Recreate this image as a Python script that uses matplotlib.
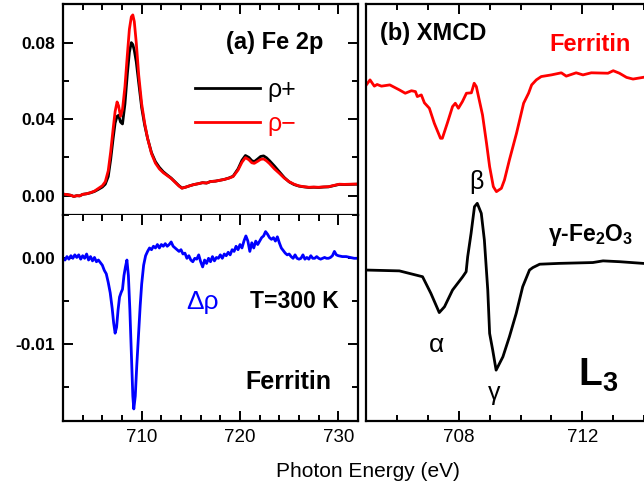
import matplotlib
matplotlib.use("Agg")
import matplotlib.pyplot as plt
from matplotlib.ticker import FixedLocator, MultipleLocator

plt.rcParams['font.family'] = ['Liberation Sans', 'DejaVu Sans']
plt.rcParams['mathtext.fontset'] = 'custom'
plt.rcParams['mathtext.rm'] = 'Liberation Sans'
plt.rcParams['mathtext.bf'] = 'Liberation Sans:bold'
plt.rcParams['mathtext.it'] = 'Liberation Sans:italic'

# ---------------- data: panel (a) top, absorption ----------------
energy_abs = [702.0, 702.4, 702.8, 703.1, 703.4, 703.7, 704.0, 704.4, 704.8, 705.2,
              705.6, 706.0, 706.3, 706.6, 706.85, 707.1, 707.3, 707.5, 707.65, 707.85,
              708.05, 708.3, 708.55, 708.75, 708.95, 709.1, 709.25, 709.45, 709.7, 710.0,
              710.3, 710.6, 711.0, 711.4, 711.8, 712.2, 712.6, 713.0, 713.4, 713.8,
              714.1, 714.5, 714.9, 715.3, 715.7, 716.2, 716.6, 717.0, 717.5, 717.9,
              718.4, 718.9, 719.3, 719.8, 720.2, 720.55, 720.9, 721.2, 721.45, 721.8,
              722.1, 722.4, 722.7, 723.0, 723.5, 724.0, 724.5, 725.0, 725.5, 726.0,
              726.5, 727.0, 727.5, 728.0, 728.5, 729.0, 729.5, 730.1, 730.6, 731.2, 732.0]
rho_minus = [0.0008, 0.0006, 0.0002, -0.0004, 0.0000, -0.0001, 0.0007, 0.0010, 0.0016, 0.0024,
             0.0038, 0.0052, 0.0073, 0.0130, 0.0230, 0.0350, 0.0440, 0.0490, 0.0470, 0.0415,
             0.0450, 0.0570, 0.0740, 0.0870, 0.0935, 0.0945, 0.0910, 0.0800, 0.0630, 0.0480,
             0.0380, 0.0300, 0.0220, 0.0170, 0.0140, 0.0120, 0.0105, 0.0090, 0.0070, 0.0050,
             0.0039, 0.0045, 0.0052, 0.0058, 0.0062, 0.0068, 0.0066, 0.0074, 0.0076, 0.0080,
             0.0085, 0.0092, 0.0100, 0.0134, 0.0175, 0.0199, 0.0188, 0.0172, 0.0169, 0.0180,
             0.0190, 0.0192, 0.0182, 0.0168, 0.0140, 0.0117, 0.0092, 0.0073, 0.0060, 0.0051,
             0.0047, 0.0044, 0.0045, 0.0044, 0.0046, 0.0047, 0.0053, 0.0060, 0.0059, 0.0060, 0.0061]
rho_plus = [0.0008, 0.0006, 0.0002, -0.0004, 0.0000, -0.0001, 0.0007, 0.0010, 0.0015, 0.0022,
            0.0033, 0.0045, 0.0060, 0.0100, 0.0190, 0.0300, 0.0380, 0.0415, 0.0420, 0.0385,
            0.0375, 0.0480, 0.0640, 0.0750, 0.0800, 0.0790, 0.0760, 0.0700, 0.0590, 0.0460,
            0.0370, 0.0300, 0.0225, 0.0178, 0.0148, 0.0125, 0.0108, 0.0092, 0.0072, 0.0052,
            0.0040, 0.0045, 0.0052, 0.0058, 0.0062, 0.0068, 0.0066, 0.0074, 0.0076, 0.0080,
            0.0085, 0.0093, 0.0102, 0.0140, 0.0185, 0.0210, 0.0200, 0.0183, 0.0178, 0.0192,
            0.0205, 0.0208, 0.0198, 0.0183, 0.0155, 0.0125, 0.0095, 0.0072, 0.0058, 0.0050,
            0.0046, 0.0043, 0.0044, 0.0043, 0.0045, 0.0046, 0.0052, 0.0059, 0.0058, 0.0059, 0.0060]

# ---------------- data: panel (a) bottom, difference ----------------
energy_diff = [702.0, 702.2, 702.4, 702.6, 702.8, 703.0, 703.2, 703.4, 703.6, 703.8,
               704.0, 704.2, 704.4, 704.6, 704.8, 705.0, 705.2, 705.4, 705.6, 705.8,
               706.0, 706.2, 706.4, 706.6, 706.8, 707.0, 707.15, 707.3, 707.45, 707.6,
               707.75, 707.9, 708.05, 708.2, 708.35, 708.5, 708.65, 708.8, 708.95, 709.1,
               709.2, 709.35, 709.5, 709.7, 709.85, 710.0, 710.2, 710.4, 710.6, 710.8,
               711.0, 711.2, 711.4, 711.6, 711.8, 712.0, 712.2, 712.4, 712.6, 712.8,
               713.0, 713.2, 713.4, 713.6, 713.8, 714.0, 714.2, 714.4, 714.6, 714.8,
               715.0, 715.2, 715.4, 715.6, 715.8, 716.0, 716.2, 716.4, 716.6, 716.8,
               717.0, 717.2, 717.4, 717.6, 717.8, 718.0, 718.2, 718.4, 718.6, 718.8,
               719.0, 719.2, 719.4, 719.6, 719.8, 720.0, 720.2, 720.4, 720.6, 720.8,
               721.0, 721.2, 721.4, 721.6, 721.8, 722.0, 722.2, 722.4, 722.6, 722.8,
               723.0, 723.2, 723.4, 723.6, 723.8, 724.0, 724.2, 724.4, 724.6, 724.8,
               725.0, 725.2, 725.4, 725.6, 725.8, 726.0, 726.2, 726.4, 726.6, 726.8,
               727.0, 727.2, 727.4, 727.6, 727.8, 728.0, 728.2, 728.4, 728.6, 728.8,
               729.0, 729.2, 729.4, 729.6, 729.8, 730.0, 730.4, 730.8, 731.2, 731.6, 732.0]
delta_rho = [0.0000, -0.0002, 0.0002, -0.0001, 0.0003, 0.0000, 0.0004, 0.0001, 0.0004, -0.0001,
             0.0003, 0.0000, 0.0005, -0.0002, 0.0002, -0.0003, 0.0001, -0.0004, -0.0002, -0.0005,
             -0.0008, -0.0014, -0.0018, -0.0028, -0.0040, -0.0058, -0.0075, -0.0087, -0.0080, -0.0060,
             -0.0045, -0.0040, -0.0036, -0.0020, -0.0010, -0.0002, -0.0020, -0.0060, -0.0110, -0.0160,
             -0.0175, -0.0160, -0.0125, -0.0085, -0.0055, -0.0030, -0.0008, 0.0003, 0.0008, 0.0012,
             0.0010, 0.0014, 0.0012, 0.0016, 0.0012, 0.0016, 0.0014, 0.0017, 0.0014, 0.0016,
             0.0019, 0.0014, 0.0012, 0.0010, 0.0008, 0.0010, 0.0005, 0.0006, 0.0000, 0.0003,
             -0.0002, -0.0004, 0.0000, -0.0001, 0.0004, -0.0004, -0.0010, -0.0002, -0.0006, 0.0000,
             -0.0004, 0.0002, -0.0003, 0.0001, 0.0000, 0.0004, 0.0000, 0.0005, 0.0003, 0.0007,
             0.0004, 0.0010, 0.0008, 0.0014, 0.0010, 0.0016, 0.0012, 0.0020, 0.0026, 0.0020,
             0.0008, 0.0018, 0.0012, 0.0020, 0.0016, 0.0020, 0.0024, 0.0026, 0.0031, 0.0028,
             0.0024, 0.0022, 0.0024, 0.0020, 0.0025, 0.0018, 0.0012, 0.0009, 0.0006, 0.0004,
             0.0005, 0.0002, 0.0000, 0.0004, 0.0000, -0.0001, 0.0000, 0.0004, -0.0001, 0.0001,
             -0.0001, 0.0003, 0.0000, 0.0000, 0.0002, 0.0000, -0.0001, 0.0000, 0.0001, 0.0000,
             0.0000, 0.0001, 0.0003, 0.0008, 0.0004, 0.0003, 0.0002, 0.0002, 0.0001, 0.0000, 0.0000]

# ---------------- data: panel (b) XMCD (arbitrary units) ----------------
energy_ferritin = [704.98, 705.13, 705.27, 705.36, 705.5, 705.77, 706.08, 706.27, 706.47, 706.6,
                   706.66, 706.79, 706.89, 707.05, 707.21, 707.41, 707.47, 707.63, 707.8, 707.89,
                   707.99, 708.12, 708.25, 708.41, 708.5, 708.57, 708.77, 708.9, 709.0, 709.12,
                   709.22, 709.38, 709.48, 709.64, 709.87, 710.1, 710.26, 710.36, 710.51, 710.67,
                   711.0, 711.32, 711.48, 711.8, 712.02, 712.29, 712.83, 713.0, 713.2, 713.43,
                   713.64, 713.96]
xmcd_ferritin = [8.03, 8.18, 8.03, 8.07, 8.03, 8.06, 7.94, 7.86, 7.92, 7.90,
                 7.78, 7.82, 7.63, 7.50, 7.14, 6.78, 6.78, 7.14, 7.54, 7.62,
                 7.50, 7.66, 7.86, 7.87, 8.10, 8.02, 7.34, 6.66, 6.10, 5.62,
                 5.50, 5.58, 5.78, 6.26, 6.90, 7.62, 7.86, 8.06, 8.18, 8.26,
                 8.30, 8.35, 8.27, 8.35, 8.30, 8.35, 8.34, 8.40, 8.34, 8.24,
                 8.20, 8.24]
energy_fe2o3 = [705.0, 706.08, 706.83, 707.1, 707.37, 707.54, 707.8, 708.13, 708.24, 708.29,
                708.4, 708.51, 708.6, 708.73, 708.83, 708.94, 709.0, 709.1, 709.21, 709.43,
                709.64, 709.86, 710.07, 710.29, 710.4, 710.62, 711.26, 712.34, 712.67, 713.21,
                713.96]
xmcd_fe2o3 = [3.62, 3.60, 3.46, 3.06, 2.60, 2.74, 3.14, 3.46, 3.58, 3.94,
              4.50, 5.14, 5.22, 4.98, 4.34, 3.14, 2.10, 1.70, 1.22, 1.54,
              2.02, 2.58, 3.22, 3.62, 3.68, 3.76, 3.78, 3.80, 3.84, 3.82,
              3.78]

# tick labels
top_yticks = [0.00, 0.04, 0.08]
top_ylabels = ['0.00', '0.04', '0.08']
bot_yticks = [0.00, -0.01]
bot_ylabels = ['0.00', '-0.01']
a_xticks = [710, 720, 730]
b_xticks = [708, 712]

W, H = 644, 484
fig = plt.figure(figsize=(W / 100, H / 100), dpi=100)

def frac(x0, y0, x1, y1):
    return [x0 / W, 1 - y1 / H, (x1 - x0) / W, (y1 - y0) / H]

ax_top = fig.add_axes(frac(63, 4, 358, 215))
ax_bot = fig.add_axes(frac(63, 215, 358, 421))
ax_b = fig.add_axes(frac(366, 4, 646, 421))

for ax in (ax_top, ax_bot, ax_b):
    for s in ax.spines.values():
        s.set_linewidth(1.6)
    ax.tick_params(which='both', direction='in', width=1.4, colors='black')
    ax.tick_params(which='major', length=7)
    ax.tick_params(which='minor', length=4)

# ---- top (a) ----
ax_top.plot(energy_abs, rho_plus, color='black', lw=2.0, label='ρ+')
ax_top.plot(energy_abs, rho_minus, color='#ff0000', lw=2.0, label='ρ−')
ax_top.set_xlim(702, 732)
ax_top.set_ylim(-0.0101, 0.1002)
ax_top.xaxis.set_major_locator(FixedLocator(a_xticks))
ax_top.xaxis.set_minor_locator(MultipleLocator(2))
ax_top.yaxis.set_major_locator(FixedLocator(top_yticks))
ax_top.set_yticklabels(top_ylabels)
ax_top.yaxis.set_minor_locator(MultipleLocator(0.02))
ax_top.tick_params(which='both', top=True, bottom=False, labelbottom=False,
                   left=True, right=True)
ax_top.tick_params(axis='y', labelsize=12.5, pad=6)
for lab in ax_top.get_yticklabels():
    lab.set_fontweight('bold')
leg = ax_top.legend(loc='upper left', bbox_to_anchor=(0.37, 0.755), frameon=False,
                    fontsize=18, handlelength=2.6, handletextpad=0.3,
                    labelspacing=0.38, labelcolor='linecolor')
ax_top.text(723.55, 0.0803, '(a) Fe 2p', fontsize=17, fontweight='bold',
            ha='center', va='center')

# ---- bottom (a) ----
ax_bot.plot(energy_diff, delta_rho, color='#0000ff', lw=2.0)
ax_bot.set_xlim(702, 732)
ax_bot.set_ylim(-0.0189, 0.00503)
ax_bot.xaxis.set_major_locator(FixedLocator(a_xticks))
ax_bot.xaxis.set_minor_locator(MultipleLocator(2))
ax_bot.yaxis.set_major_locator(FixedLocator(bot_yticks))
ax_bot.set_yticklabels(bot_ylabels)
ax_bot.yaxis.set_minor_locator(MultipleLocator(0.005))
ax_bot.tick_params(which='both', top=True, bottom=True, left=True, right=True)
ax_bot.spines['top'].set_visible(False)
ax_bot.tick_params(axis='y', labelsize=12.5, pad=6)
ax_bot.tick_params(axis='x', labelsize=13.5, pad=6)
for lab in ax_bot.get_yticklabels():
    lab.set_fontweight('bold')
ax_bot.text(716.2, -0.00505, 'Δρ', fontsize=19, color='#0000ff', ha='center', va='center')
ax_bot.text(725.5, -0.00505, 'T=300 K', fontsize=16.5, fontweight='bold', ha='center', va='center')
ax_bot.text(724.9, -0.01435, 'Ferritin', fontsize=18, fontweight='bold', ha='center', va='center')

# ---- panel (b) ----
ax_b.plot(energy_ferritin, xmcd_ferritin, color='#ff0000', lw=2.0)
ax_b.plot(energy_fe2o3, xmcd_fe2o3, color='black', lw=2.0)
ax_b.set_xlim(705, 714.06)
ax_b.set_ylim(0, 10)
ax_b.xaxis.set_major_locator(FixedLocator(b_xticks))
ax_b.xaxis.set_minor_locator(MultipleLocator(1))
ax_b.set_yticks([])
ax_b.tick_params(which='both', top=True, bottom=True, left=False, right=False)
ax_b.tick_params(axis='x', labelsize=13.5, pad=6)
ax_b.spines['right'].set_visible(False)
ax_b.text(707.19, 9.3, '(b) XMCD', fontsize=17, fontweight='bold', ha='center', va='center')
ax_b.text(712.24, 9.02, 'Ferritin', fontsize=17, fontweight='bold', color='#ff0000',
          ha='center', va='center')
ax_b.text(708.56, 5.74, 'β', fontsize=18, ha='center', va='center')
ax_b.text(712.27, 4.45, r'γ-Fe$_\mathbf{2}$O$_\mathbf{3}$', fontsize=16.5, fontweight='bold',
          ha='center', va='center')
ax_b.text(707.27, 1.82, 'α', fontsize=19, ha='center', va='center')
ax_b.text(709.16, 0.66, 'γ', fontsize=18, ha='center', va='center')
ax_b.text(712.5, 1.1, r'L$_\mathbf{3}$', fontsize=28, fontweight='bold', ha='center', va='center')

fig.text(368 / W, 1 - 471.7 / H, 'Photon Energy (eV)', fontsize=15, ha='center', va='center')

fig.savefig('out.png', dpi=100)
